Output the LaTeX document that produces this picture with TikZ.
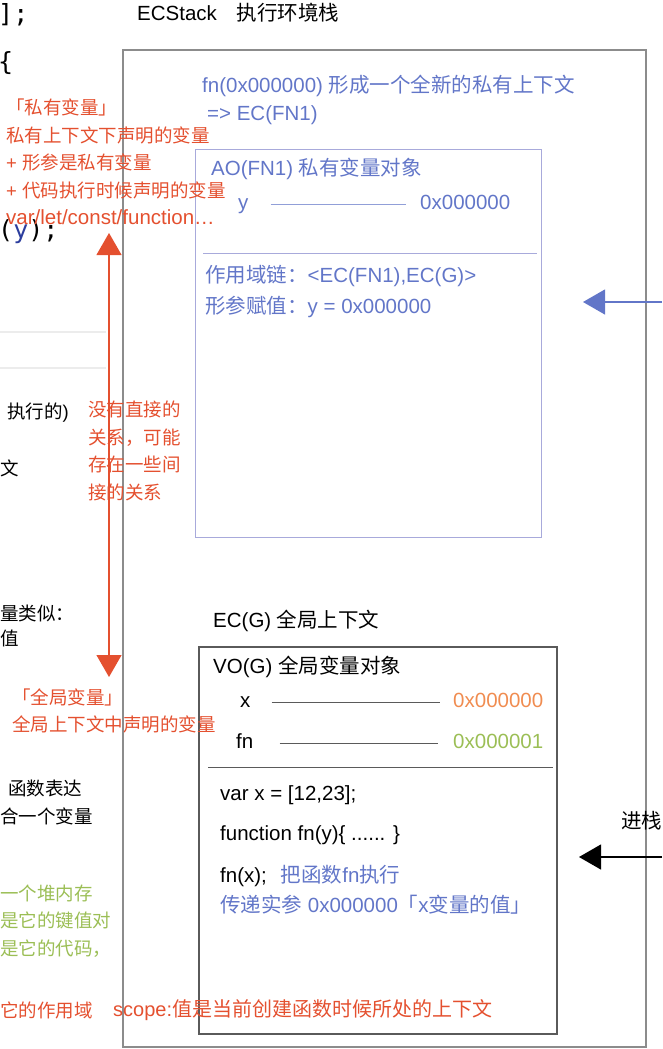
\documentclass[tikz,border=0pt]{standalone}
\usepackage{fontspec}
\setmainfont{Liberation Sans}
\newfontfamily\cjkfont{Noto Sans CJK SC}
\newfontfamily\codefont{DejaVu Sans Mono}
\usetikzlibrary{arrows.meta}
% Chinese runs switch to the CJK family by themselves
\newXeTeXintercharclass\cjkclass
\newcount\cjkc
\def\setcjkrange#1#2#3{\cjkc=#1 \loop\XeTeXcharclass\cjkc=#3 \ifnum\cjkc<#2 \advance\cjkc by 1 \repeat}
\setcjkrange{"0021}{"007E}{0}
\setcjkrange{"2026}{"2026}{0}
\setcjkrange{"3000}{"303F}{\cjkclass}
\setcjkrange{"4E00}{"9FFF}{\cjkclass}
\setcjkrange{"FF00}{"FFEF}{\cjkclass}
\XeTeXinterchartoks 0 \cjkclass = {\begingroup\cjkfont}
\XeTeXinterchartoks 4095 \cjkclass = {\begingroup\cjkfont}
\XeTeXinterchartoks \cjkclass 0 = {\endgroup}
\XeTeXinterchartoks \cjkclass 4095 = {\endgroup}
\XeTeXinterchartokenstate=1
\definecolor{ecblue}{HTML}{6276C8}
\definecolor{ecred}{HTML}{E4502F}
\definecolor{ecorange}{HTML}{F08C50}
\definecolor{ecgreen}{HTML}{9BBE55}
\definecolor{aoframe}{HTML}{A8AADB}
\definecolor{stackframe}{HTML}{8C8C8C}
\definecolor{gframe}{HTML}{5A5A5A}
\definecolor{codeblue}{HTML}{2C3E9E}
\begin{document}
\begin{tikzpicture}[x=1pt, y=-1pt,
    txt/.style={anchor=west, inner sep=0pt, text height=15pt, text depth=4pt,
      font=\fontsize{20.5}{24}\selectfont},
    side/.style={anchor=west, inner sep=0pt, text height=14pt, text depth=4pt,
      font=\fontsize{18.5}{27.5}\selectfont},
    note/.style={anchor=west, inner sep=0pt, align=left, text=ecred,
      font=\fontsize{18.5}{27.5}\selectfont},
    code/.style={anchor=west, inner sep=0pt, font=\codefont\fontsize{25}{30}\selectfont},
    addrline/.style={line width=1pt},
    tipbig/.style={arrows={-{Triangle[length=22pt,width=25pt]}}, line width=1.2pt}]
  \useasboundingbox (0,0) rectangle (662,1049);
  % screen behind the drawing
  \draw[gray!15, line width=2pt] (0,332) -- (106,332);
  \draw[gray!15, line width=2pt] (0,368) -- (106,368);
  \node[code] (cbrk) at (-2,15) {];};
  \node[code] (cbrace) at (-2,63) {\{};
  \node[code] (ccall) at (-2,232) {(\textcolor{codeblue}{y});};
  \node[side] (bexec) at (7,413) {执行的)};
  \node[side] (bctx) at (0,470) {文};
  \node[side] (blike) at (0,615) {量类似：};
  \node[side] (bval) at (0,640) {值};
  \node[side] (bexpr) at (8,790) {函数表达};
  \node[side] (bgive) at (0,818) {合一个变量};
  \node[note, text=ecgreen] (heapnote) at (0,921)
    {一个堆内存\\是它的键值对\\是它的代码，};
  % ECStack
  \node[txt] (ecstack) at (137,15) {ECStack\hspace{20pt}执行环境栈};
  \draw[stackframe, line width=2pt] (123,50) rectangle (646,1047);
  % EC(FN1)
  \node[txt, text=ecblue] (fncall) at (202,87) {fn(0x000000) 形成一个全新的私有上下文};
  \node[txt, text=ecblue] (ecfn) at (207,115) {=> EC(FN1)};
  \draw[aoframe, line width=1pt] (195,149) rectangle (541,537);
  \node[txt, text=ecblue] (aotitle) at (211,170) {AO(FN1) 私有变量对象};
  \node[txt, text=ecblue] (ay) at (238,204) {y};
  \node[txt, text=ecblue] (ayaddr) at (420,204) {0x000000};
  \draw[addrline, ecblue!70, shorten <=22pt, shorten >=14pt] (ay.east) -- (ayaddr.west);
  \draw[aoframe, line width=1pt] (203,253) -- (537,253);
  \node[txt, text=ecblue] (scopechain) at (205,277) {作用域链：<EC(FN1),EC(G)>};
  \node[txt, text=ecblue] (argset) at (205,308) {形参赋值：y = 0x000000};
  % EC(G)
  \node[txt] (ecg) at (213,622) {EC(G) 全局上下文};
  \draw[gframe, line width=1.4pt] (199,647) rectangle (557,1034);
  \node[txt] (vog) at (213,668) {VO(G) 全局变量对象};
  \node[txt] (gx) at (240,702) {x};
  \node[txt, text=ecorange] (gxaddr) at (453,702) {0x000000};
  \draw[addrline, gframe, shorten <=21pt, shorten >=13pt] (gx.east) -- (gxaddr.west);
  \node[txt] (gfn) at (236,743) {fn};
  \node[txt, text=ecgreen] (gfnaddr) at (453,743) {0x000001};
  \draw[addrline, gframe, shorten <=26pt, shorten >=15pt] (gfn.east) -- (gfnaddr.west);
  \draw[gframe, line width=1pt] (208,767) -- (553,767);
  \node[txt] (gvar) at (220,795) {var x = [12,23];};
  \node[txt] (gfunc) at (220,835) {function fn(y)\{ ...... \}};
  \node[txt] (gcall) at (220,877) {fn(x);\hspace{14pt}\textcolor{ecblue}{把函数fn执行}};
  \node[txt, text=ecblue] (gargs) at (220,907) {传递实参 0x000000「x变量的值」};
  % push arrows
  \coordinate (fnin) at (662,302);
  \coordinate (fntip) at (583,302);
  \draw[tipbig, ecblue] (fnin) -- (fntip);
  \node[txt] (push) at (621,823) {进栈};
  \coordinate (pushin) at (662,857);
  \coordinate (pushtip) at (579,857);
  \draw[tipbig, black] (pushin) -- (pushtip);
  % red notes
  \node[note] (privnote) at (6,162)
    {「私有变量」\\私有上下文下声明的变量\\+ 形参是私有变量\\+ 代码执行时候声明的变量\\{\fontsize{20.5}{27.5}\selectfont var/let/const/function…}};
  \coordinate (privtop) at (109,233);
  \coordinate (globbot) at (109,677);
  \draw[ecred, line width=1.2pt,
    arrows={{Triangle[length=22pt,width=25pt]}-{Triangle[length=22pt,width=25pt]}}]
    (privtop) -- (globbot);
  \node[note] (relnote) at (88,451)
    {没有直接的\\关系，可能\\存在一些间\\接的关系};
  \node[note] (globnote) at (12,711)
    {「全局变量」\\全局上下文中声明的变量};
  \node[note] (scopeleft) at (0,1010) {它的作用域};
  \node[note, font=\fontsize{20}{24}\selectfont] (scopenote) at (113,1010)
    {scope:值是当前创建函数时候所处的上下文};
\end{tikzpicture}
\end{document}
